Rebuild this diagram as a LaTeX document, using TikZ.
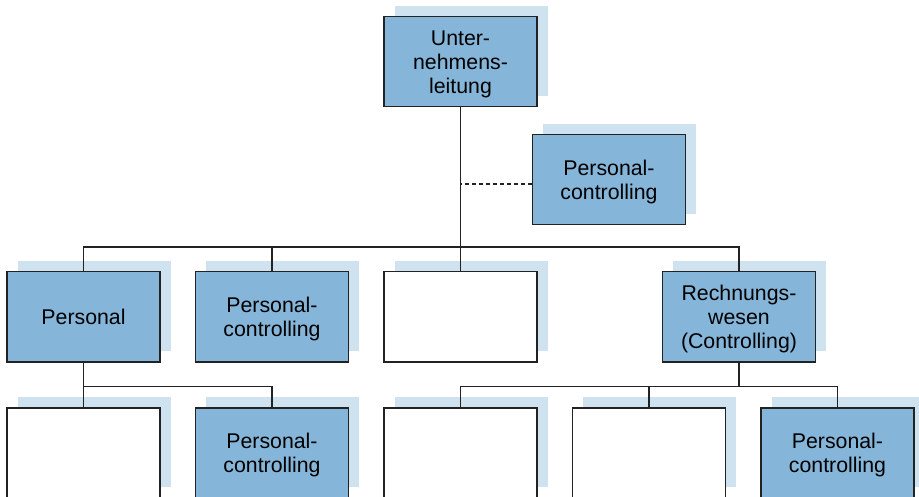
\documentclass[tikz,border=0pt]{standalone}
\usepackage{fontspec}
\setmainfont{Liberation Sans}
\usetikzlibrary{shadows}
\definecolor{boxblue}{RGB}{133,182,217}
\definecolor{shadowblue}{RGB}{207,226,240}
\definecolor{edge}{RGB}{34,34,34}
\newcommand\boxtext[1]{\raisebox{-3pt}[\height][\depth]{\begin{tabular}{@{}c@{}}#1\end{tabular}}}
\tikzset{
  orgbox/.style={draw=edge, line width=1.6pt, minimum width=153pt, minimum height=90pt,
    inner sep=0pt, align=center, font=\fontsize{21.3}{24}\selectfont,
    general shadow={shadow xshift=10.5pt, shadow yshift=10.5pt, fill=shadowblue, draw=none}},
  filled/.style={orgbox, fill=boxblue},
  blank/.style={orgbox, fill=white},
  conn/.style={draw=edge, line width=1.1pt},
}
\begin{document}
\begin{tikzpicture}[x=1pt,y=-1pt]
\useasboundingbox (0,0) rectangle (919,497);
\clip (0,0) rectangle (919,497);
% top
\node[filled] (top) at (460.5,61.7) {\boxtext{Unter-\\nehmens-\\leitung}};
\node[filled] (staff) at (609,179.7) {\boxtext{Personal-\\controlling}};
% row 2
\node[filled] (p2) at (83.5,316.7) {\boxtext{Personal}};
\node[filled] (pc2) at (272,316.7) {\boxtext{Personal-\\controlling}};
\node[blank] (e2) at (460.5,316.7) {};
\node[filled] (r2) at (739,316.7) {\boxtext{Rechnungs-\\wesen\\(Controlling)}};
% row 3
\node[blank] (e3a) at (83.5,452.7) {};
\node[filled] (pc3a) at (272,452.7) {\boxtext{Personal-\\controlling}};
\node[blank] (e3b) at (460.5,452.7) {};
\node[blank] (e3c) at (649,452.7) {};
\node[filled] (pc3b) at (837.5,452.7) {\boxtext{Personal-\\controlling}};
% connectors
\coordinate (bus1) at (0,247);
\coordinate (bus2) at (0,386.5);
\coordinate (dash) at (0,184);
\draw[conn] (top.south) -- (e2.north);
\draw[conn, dash pattern=on 4pt off 3pt] (staff.west |- dash) -- (top.south |- dash);
\draw[conn] (p2.north) -- (p2.north |- bus1) -- (r2.north |- bus1) -- (r2.north);
\draw[conn] (pc2.north) -- (pc2.north |- bus1);
\draw[conn] (p2.south) -- (e3a.north);
\draw[conn] (p2.south |- bus2) -- (pc3a.north |- bus2) -- (pc3a.north);
\draw[conn] (r2.south) -- (r2.south |- bus2);
\draw[conn] (e3b.north) -- (e3b.north |- bus2) -- (pc3b.north |- bus2) -- (pc3b.north);
\draw[conn] (e3c.north) -- (e3c.north |- bus2);
\end{tikzpicture}
\end{document}
